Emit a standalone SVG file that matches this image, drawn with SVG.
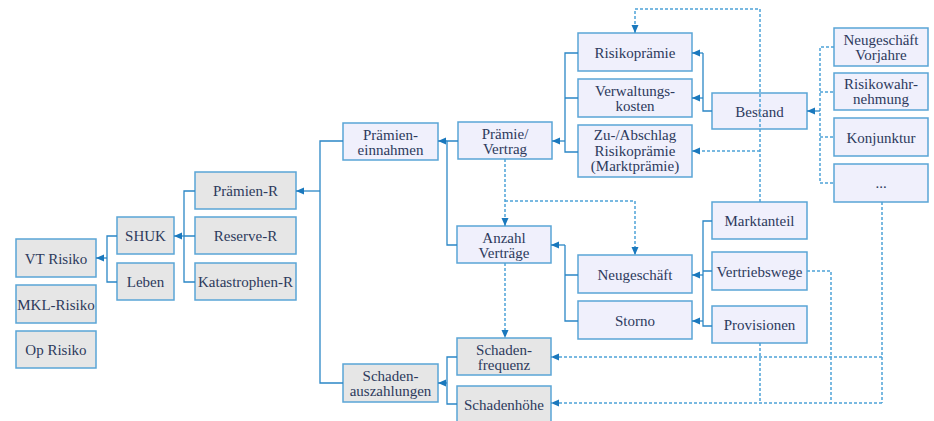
<svg xmlns="http://www.w3.org/2000/svg" width="934" height="421" viewBox="0 0 934 421">
<style>
.b rect{stroke:#5aa5d6;stroke-width:1.5}
.g rect{fill:#e6e6e6}
.l rect{fill:#f0f0fc}
text{font-family:"Liberation Serif","Times New Roman",serif;font-size:15px;fill:#2d3a5c;text-anchor:middle}
.s{fill:none;stroke:#2b87c6;stroke-width:1.3}
.d{fill:none;stroke:#4da2d8;stroke-width:1.5;stroke-dasharray:3 2}
</style>
<defs>
<marker id="a" markerUnits="userSpaceOnUse" markerWidth="9" markerHeight="8" refX="8" refY="3.5" orient="auto">
<path d="M0,0 L8,3.5 L0,7 z" fill="#1a78bd"/>
</marker>
</defs>
<rect width="934" height="421" fill="#ffffff"/>
<g id="nodes" class="b">
<g id="vt" class="g"><rect x="16" y="239" width="80" height="38"/><text x="56" y="263.5">VT Risiko</text></g>
<g id="mkl" class="g"><rect x="16" y="285" width="80" height="38"/><text x="56" y="309.5">MKL-Risiko</text></g>
<g id="op" class="g"><rect x="16" y="331" width="80" height="37"/><text x="56" y="355">Op Risiko</text></g>
<g id="shuk" class="g"><rect x="117" y="217" width="57" height="37"/><text x="145.5" y="241">SHUK</text></g>
<g id="leben" class="g"><rect x="117" y="263" width="57" height="37"/><text x="145.5" y="287">Leben</text></g>
<g id="praemienr" class="g"><rect x="195" y="172" width="101" height="37"/><text x="245.5" y="196">Prämien-R</text></g>
<g id="reserver" class="g"><rect x="195" y="217" width="101" height="37"/><text x="245.5" y="241">Reserve-R</text></g>
<g id="katr" class="g"><rect x="195" y="263" width="101" height="37"/><text x="245.5" y="287">Katastrophen-R</text></g>
<g id="pein" class="l"><rect x="343" y="123" width="95" height="37"/><text x="390.5" y="139.5">Prämien-</text><text x="390.5" y="154.5">einnahmen</text></g>
<g id="saus" class="g"><rect x="343" y="364" width="95" height="38"/><text x="390.5" y="381">Schaden-</text><text x="390.5" y="396">auszahlungen</text></g>
<g id="pv" class="l"><rect x="458" y="122" width="94" height="37"/><text x="505" y="138.5">Prämie/</text><text x="505" y="153.5">Vertrag</text></g>
<g id="anz" class="l"><rect x="457" y="226" width="94" height="37"/><text x="504" y="242.5">Anzahl</text><text x="504" y="257.5">Verträge</text></g>
<g id="sfreq" class="g"><rect x="457" y="338" width="94" height="37"/><text x="504" y="354.5">Schaden-</text><text x="504" y="369.5">frequenz</text></g>
<g id="shoehe" class="g"><rect x="457" y="386" width="94" height="36"/><text x="504" y="410">Schadenhöhe</text></g>
<g id="risiko" class="l"><rect x="578" y="33" width="114" height="38"/><text x="635" y="57.5">Risikoprämie</text></g>
<g id="verw" class="l"><rect x="578" y="79" width="114" height="38"/><text x="635" y="96">Verwaltungs-</text><text x="635" y="111">kosten</text></g>
<g id="zuab" class="l"><rect x="578" y="125" width="114" height="52"/><text x="635" y="140">Zu-/Abschlag</text><text x="635" y="155.5">Risikoprämie</text><text x="635" y="171">(Marktprämie)</text></g>
<g id="neu" class="l"><rect x="578" y="255" width="114" height="38"/><text x="635" y="279.5">Neugeschäft</text></g>
<g id="storno" class="l"><rect x="578" y="301" width="114" height="38"/><text x="635" y="325.5">Storno</text></g>
<g id="bestand" class="l"><rect x="712" y="93" width="95" height="36"/><text x="759.5" y="116.5">Bestand</text></g>
<g id="markt" class="l"><rect x="712" y="202" width="95" height="37"/><text x="759.5" y="226">Marktanteil</text></g>
<g id="vertrieb" class="l"><rect x="712" y="252" width="95" height="38"/><text x="759.5" y="276.5">Vertriebswege</text></g>
<g id="prov" class="l"><rect x="712" y="306" width="95" height="37"/><text x="759.5" y="330">Provisionen</text></g>
<g id="nvj" class="l"><rect x="834" y="28" width="94" height="38"/><text x="881" y="44.5">Neugeschäft</text><text x="881" y="59.5">Vorjahre</text></g>
<g id="rw" class="l"><rect x="834" y="73" width="94" height="37"/><text x="881" y="89">Risikowahr-</text><text x="881" y="104">nehmung</text></g>
<g id="konj" class="l"><rect x="834" y="118" width="94" height="38"/><text x="881" y="142.5">Konjunktur</text></g>
<g id="etc" class="l"><rect x="834" y="164" width="94" height="38"/><text x="881" y="188">...</text></g>
</g>
<g id="connectors">
<path class="s" d="M117,236 H107 V282 H117"/>
<path class="s" d="M107,258 H96" marker-end="url(#a)"/>
<path class="s" d="M195,191 H184 V282 H195 M184,236 H195"/>
<path class="s" d="M184,236 H174" marker-end="url(#a)"/>
<path class="s" d="M343,141 H320 V383 H343"/>
<path class="s" d="M320,191 H296" marker-end="url(#a)"/>
<path class="s" d="M458,141 H447 V245 H457"/>
<path class="s" d="M447,141 H438" marker-end="url(#a)"/>
<path class="s" d="M457,357 H447 V404 H457"/>
<path class="s" d="M447,383 H438" marker-end="url(#a)"/>
<path class="s" d="M578,53 H565 V152 H578 M565,98 H578"/>
<path class="s" d="M565,141 H552" marker-end="url(#a)"/>
<path class="s" d="M712,111 H703 V53"/>
<path class="s" d="M703,53 H692" marker-end="url(#a)"/>
<path class="s" d="M703,98 H692" marker-end="url(#a)"/>
<path class="s" d="M578,275 H565 V321 H578 M565,245 V275"/>
<path class="s" d="M565,245 H551" marker-end="url(#a)"/>
<path class="s" d="M712,221 H703 V326 H712 M703,271 H712"/>
<path class="s" d="M703,275 H692" marker-end="url(#a)"/>
<path class="s" d="M703,321 H692" marker-end="url(#a)"/>
<path class="d" d="M834,47 H820 V183 H834 M820,92 H834 M820,137 H834"/>
<path class="s" d="M820,111 H807" marker-end="url(#a)"/>
<path class="d" d="M505,159 V226" marker-end="url(#a)"/>
<path class="d" d="M505,201 H635 V255" marker-end="url(#a)"/>
<path class="d" d="M505,263 V338" marker-end="url(#a)"/>
<path class="d" d="M760,202 V9 H635 V33" marker-end="url(#a)"/>
<path class="d" d="M760,151 H692" marker-end="url(#a)"/>
<path class="d" d="M807,271 H831 V403"/>
<path class="d" d="M882,202 V403"/>
<path class="d" d="M760,343 V403"/>
<path class="d" d="M882,357 H551" marker-end="url(#a)"/>
<path class="d" d="M882,403 H551" marker-end="url(#a)"/>
</g>
</svg>
